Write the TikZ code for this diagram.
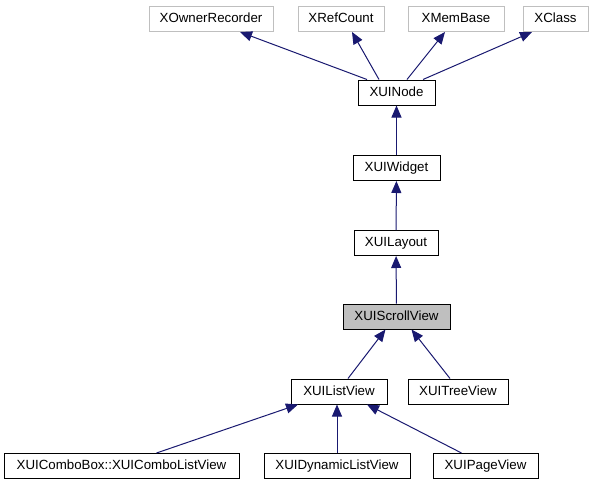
\documentclass[tikz,border=0pt]{standalone}
\usepackage{fontspec}
\setmainfont{Liberation Sans}
\usetikzlibrary{arrows.meta}
\definecolor{edgeblue}{RGB}{25,25,112}
\definecolor{boxgray}{RGB}{191,191,191}
\begin{document}
\begin{tikzpicture}[>={Triangle[length=12pt,width=10pt]},x=1pt,y=-1pt,
	cls/.style={draw=black,line width=1pt,minimum height=25pt,inner sep=0pt,text height=10pt,text depth=3pt,font=\fontsize{13.3}{15}\selectfont},
	ext/.style={cls,draw=boxgray},
	inh/.style={->,draw=edgeblue,line width=1pt}]
	\useasboundingbox (0,0) rectangle (595,485);
	% base classes
	\node[ext,minimum width=124pt] (XOwnerRecorder) at (211,19) {XOwnerRecorder};
	\node[ext,minimum width=86pt] (XRefCount) at (341,19) {XRefCount};
	\node[ext,minimum width=96pt] (XMemBase) at (456,19) {XMemBase};
	\node[ext,minimum width=65pt] (XClass) at (555.5,19) {XClass};
	% chain
	\node[cls,minimum width=77pt] (XUINode) at (396.5,92.5) {XUINode};
	\node[cls,minimum width=87pt] (XUIWidget) at (396.5,168) {XUIWidget};
	\node[cls,minimum width=84pt] (XUILayout) at (396,243) {XUILayout};
	\node[cls,fill=boxgray,minimum width=107pt] (XUIScrollView) at (396.5,316.5) {XUIScrollView};
	\node[cls,minimum width=96pt] (XUIListView) at (339,391.5) {XUIListView};
	\node[cls,minimum width=100pt] (XUITreeView) at (458,391.5) {XUITreeView};
	% derived views
	\node[cls,minimum width=235pt] (XUIComboListView) at (121.5,466) {XUIComboBox::XUIComboListView};
	\node[cls,minimum width=146pt] (XUIDynamicListView) at (337,466) {XUIDynamicListView};
	\node[cls,minimum width=105pt] (XUIPageView) at (485.5,466) {XUIPageView};
	% inheritance
	\draw[inh] ([xshift=-29.5pt]XUINode.north) -- ([xshift=29pt]XOwnerRecorder.south);
	\draw[inh] ([xshift=-17.5pt]XUINode.north) -- ([xshift=11pt]XRefCount.south);
	\draw[inh] ([xshift=10.5pt]XUINode.north) -- ([xshift=-11pt]XMemBase.south);
	\draw[inh] ([xshift=26.5pt]XUINode.north) -- ([xshift=-23.5pt]XClass.south);
	\draw[inh] (XUIWidget) -- (XUINode);
	\draw[inh] (XUILayout) -- (XUIWidget);
	\draw[inh] (XUIScrollView) -- (XUILayout);
	\draw[inh] ([xshift=9pt]XUIListView.north) -- ([xshift=-11pt]XUIScrollView.south);
	\draw[inh] ([xshift=-8pt]XUITreeView.north) -- ([xshift=15pt]XUIScrollView.south);
	\draw[inh] ([xshift=35pt]XUIComboListView.north) -- ([xshift=-41pt]XUIListView.south);
	\draw[inh] (XUIDynamicListView.north) -- (XUIDynamicListView.north |- XUIListView.south);
	\draw[inh] ([xshift=-24pt]XUIPageView.north) -- ([xshift=28pt]XUIListView.south);
\end{tikzpicture}
\end{document}
